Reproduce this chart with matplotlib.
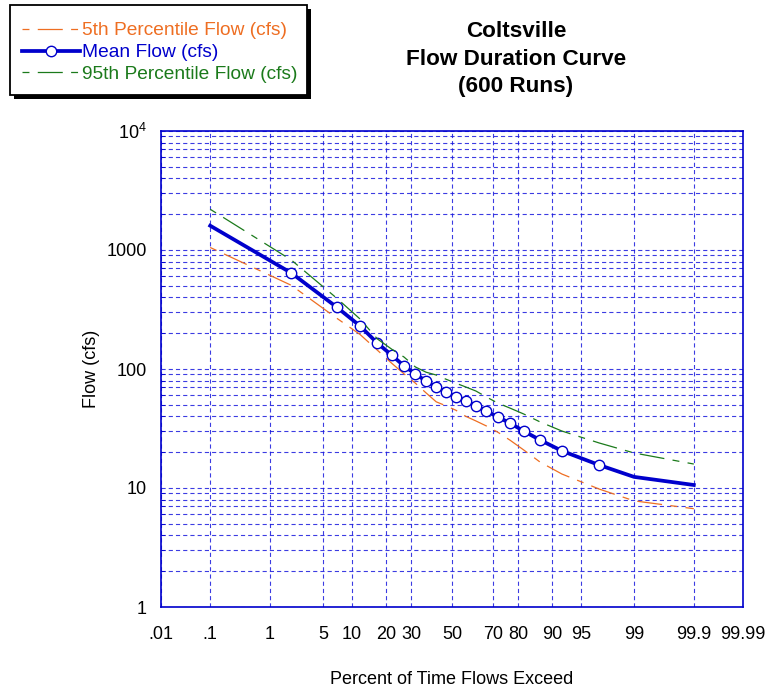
import numpy as np
import matplotlib
matplotlib.use("Agg")
import matplotlib.pyplot as plt
from matplotlib.patches import Rectangle
from matplotlib.ticker import LogLocator, NullFormatter, FixedLocator
from statistics import NormalDist

# percent of time flows exceed
pct = [0.1, 2, 7, 12, 17, 22, 27, 32, 37, 42, 47, 52, 57, 62, 67, 72, 77, 82, 87, 92, 97, 99, 99.9]
mean_flow = [1600, 641, 332, 230, 165, 131, 106, 91, 79, 70.6, 64, 58, 54, 49, 44.4, 39.5, 35.2,
             30.1, 25.3, 20.5, 15.6, 12.4, 10.6]
p5_flow = [1050, 505, 268, 195, 144, 112, 91, 76, 63, 53, 49, 45, 40, 36.6, 33.2, 29.5, 25.3,
           20.9, 16.5, 13.1, 9.8, 7.8, 6.7]
p95_flow = [2200, 824, 395, 263, 179, 147, 126, 104, 94, 89, 82, 76, 70.6, 65.3, 58.2, 51.8, 47,
            41.9, 35.9, 30.1, 23.9, 19.7, 15.9]

x_ticks = [0.01, 0.1, 1, 5, 10, 20, 30, 50, 70, 80, 90, 95, 99, 99.9, 99.99]
x_labels = [".01", ".1", "1", "5", "10", "20", "30", "50", "70", "80", "90", "95", "99", "99.9", "99.99"]
y_ticks = [1, 10, 100, 1000, 10000]
y_labels = ["1", "10", "100", "1000", r"$\mathregular{10^4}$"]

plt.rcParams["font.family"] = ["Liberation Sans", "DejaVu Sans"]
plt.rcParams["lines.scale_dashes"] = False

BLUE = "#0000CC"
ORANGE = "#EE6E22"
GREEN = "#1B7A1B"

nd = NormalDist()
_ppf = np.vectorize(nd.inv_cdf, otypes=[float])
_cdf = np.vectorize(nd.cdf, otypes=[float])


def fwd(p):
    p = np.clip(np.asarray(p, dtype=float) / 100.0, 1e-9, 1 - 1e-9)
    return _ppf(p)


def inv(z):
    return _cdf(np.asarray(z, dtype=float)) * 100.0


W, H = 768, 688
fig = plt.figure(figsize=(W / 100, H / 100), dpi=100)
ax = fig.add_axes([161 / W, 1 - 607 / H, 582 / W, 476 / H])
ax.set_xscale("function", functions=(fwd, inv))
ax.set_yscale("log")
ax.set_xlim(0.01, 99.99)
ax.set_ylim(1, 10000)

dash = (0, (5, 6, 18, 6))
l5, = ax.plot(pct, p5_flow, color=ORANGE, lw=0.9, linestyle=dash, label="5th Percentile Flow (cfs)")
lm, = ax.plot(pct, mean_flow, color=BLUE, lw=2.7, marker="o", markersize=7.5,
              markerfacecolor="white", markeredgecolor=BLUE, markeredgewidth=1.0,
              markevery=list(range(1, 21)), label="Mean Flow (cfs)")
l95, = ax.plot(pct, p95_flow, color=GREEN, lw=0.9, linestyle=dash, label="95th Percentile Flow (cfs)")

ax.xaxis.set_major_locator(FixedLocator(x_ticks))
ax.set_xticklabels(x_labels)
ax.xaxis.set_minor_locator(FixedLocator([]))
ax.yaxis.set_major_locator(FixedLocator(y_ticks))
ax.set_yticklabels(y_labels)
ax.yaxis.set_minor_locator(LogLocator(base=10, subs=range(2, 10)))
ax.yaxis.set_minor_formatter(NullFormatter())

grid_style = dict(color="#1a1add", lw=0.8, linestyle=(0, (3, 2.2)), alpha=0.85)
ax.grid(True, which="major", axis="both", **grid_style)
ax.grid(True, which="minor", axis="y", **grid_style)
ax.set_axisbelow(True)

ax.tick_params(axis="x", length=0, pad=14, labelsize=13)
ax.tick_params(axis="y", which="major", length=0, pad=10, labelsize=13)
ax.tick_params(axis="y", which="minor", length=3, direction="in", color=BLUE)
for s in ax.spines.values():
    s.set_color(BLUE)
    s.set_linewidth(1.2)

ax.set_ylabel("Flow (cfs)", fontsize=13, labelpad=5)
ax.set_xlabel("Percent of Time Flows Exceed", fontsize=13, labelpad=20)

fig.text(516 / W, 1 - 21 / H, "Coltsville\nFlow Duration Curve\n(600 Runs)", ha="center", va="top",
         fontsize=16.2, fontweight="bold", linespacing=1.41)

# legend box with drop shadow
fig.add_artist(Rectangle((14 / W, 1 - 99 / H), 297 / W, 90 / H, transform=fig.transFigure,
                         facecolor="black", edgecolor="none", zorder=4))
fig.add_artist(Rectangle((10 / W, 1 - 95 / H), 297 / W, 90 / H, transform=fig.transFigure,
                         facecolor="white", edgecolor="black", lw=1.3, zorder=5))
leg = fig.legend(handles=[l5, lm, l95], loc="upper left", bbox_to_anchor=(22 / W, 1 - 22 / H),
                 fontsize=13.8, frameon=False, handlelength=3.0, handletextpad=0.15,
                 labelspacing=0.23, borderpad=0, borderaxespad=0)
leg.set_zorder(6)
for txt, col in zip(leg.get_texts(), [ORANGE, BLUE, GREEN]):
    txt.set_color(col)

fig.savefig("out.png", dpi=100)
